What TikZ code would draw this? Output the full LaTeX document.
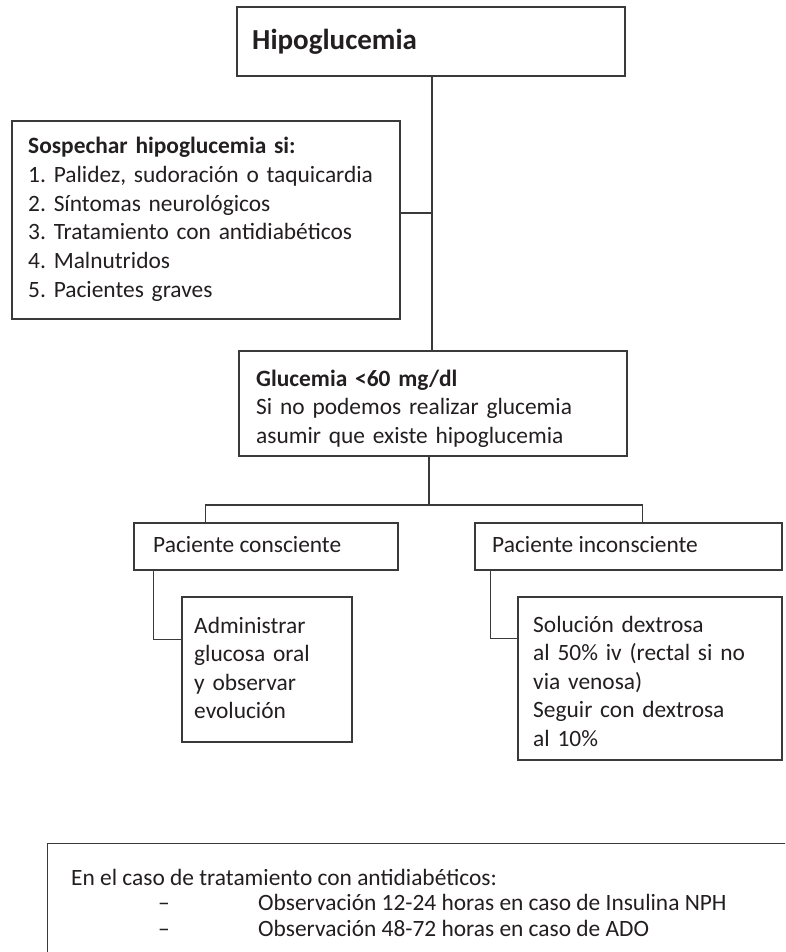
\documentclass[tikz,border=0pt]{standalone}
\usepackage{fontspec}
\setmainfont{Carlito}
\usetikzlibrary{calc}
\definecolor{ink}{HTML}{231F20}
\definecolor{rule}{HTML}{3A3A3A}
\tikzset{
  box/.style={draw=rule, line width=1.3pt, fill=white, rectangle, inner sep=0pt},
  link/.style={draw=rule, line width=1.3pt},
  txt/.style={anchor=base west, inner sep=0pt, text=ink, align=left,
    font=\fontsize{23.4}{28.6}\selectfont\frenchspacing},
  title/.style={txt, font=\fontsize{29}{34}\selectfont\bfseries},
  note/.style={txt, font=\fontsize{23.4}{26}\selectfont\frenchspacing}
}
\begin{document}
\begin{tikzpicture}[x=1pt, y=-1pt]
\useasboundingbox (0,0) rectangle (785,952);
\clip (0,0) rectangle (785,952);

% boxes
\node[box, minimum width=388pt, minimum height=69pt] (hypo) at (431,41.5) {};
\node[box, minimum width=388pt, minimum height=198pt] (sosp) at (206,220) {};
\node[box, minimum width=388pt, minimum height=105pt] (gluc) at (433,403.5) {};
\node[box, minimum width=264pt, minimum height=47pt] (cons) at (266,546.5) {};
\node[box, minimum width=307pt, minimum height=47pt] (incons) at (628.5,546.5) {};
\node[box, minimum width=170pt, minimum height=145pt] (admin) at (267,669.5) {};
\node[box, minimum width=264pt, minimum height=163pt] (sol) at (650,678.5) {};
\node[box, minimum width=760pt, minimum height=160pt, anchor=north west] (obs) at (47,843) {};

% connectors
\coordinate (trunk) at (432,213);
\coordinate (split) at (429,505);
\draw[link] (hypo.south -| trunk) -- (gluc.north -| trunk);
\draw[link] (sosp.east |- trunk) -- (trunk);
\draw[link] (gluc.south -| split) -- (split);
\draw[link] ($(cons.north west)+(72,0)$) |- (split) -| ($(incons.north west)+(168,0)$);
\draw[link] ($(cons.south west)+(20,0)$) |- ($(admin.north west)+(0,43)$);
\draw[link] ($(incons.south west)+(16,0)$) |- ($(sol.north west)+(0,42)$);

% texts
\node[title] (tHypo) at (252,50) {Hipoglucemia};
\node[txt, text width=370pt] (tSosp) at (28,154)
  {\textbf{Sospechar hipoglucemia si:}\\
   1. Palidez, sudoración o taquicardia\\
   2. Síntomas neurológicos\\
   3. Tratamiento con antidiabéticos\\
   4. Malnutridos\\
   5. Pacientes graves};
\node[txt, text width=370pt] (tGluc) at (256,386)
  {\textbf{Glucemia <60 mg/dl}\\
   Si no podemos realizar glucemia\\
   asumir que existe hipoglucemia};
\node[txt] (tCons) at (153,552) {Paciente consciente};
\node[txt] (tIncons) at (492,552) {Paciente inconsciente};
\node[txt, text width=160pt] (tAdmin) at (194,633)
  {Administrar\\ glucosa oral\\ y observar\\ evolución};
\node[txt, text width=250pt] (tSol) at (533,632)
  {Solución dextrosa\\ al 50\% iv (rectal si no\\ via venosa)\\ Seguir con dextrosa\\ al 10\%};
\node[note] (tObs) at (71,885) {En el caso de tratamiento con antidiabéticos:};
\node[note] (dashA) at (158,910) {–};
\node[note] (lineA) at (258,910) {Observación 12-24 horas en caso de Insulina NPH};
\node[note] (dashB) at (158,936) {–};
\node[note] (lineB) at (258,936) {Observación 48-72 horas en caso de ADO};
\end{tikzpicture}
\end{document}
